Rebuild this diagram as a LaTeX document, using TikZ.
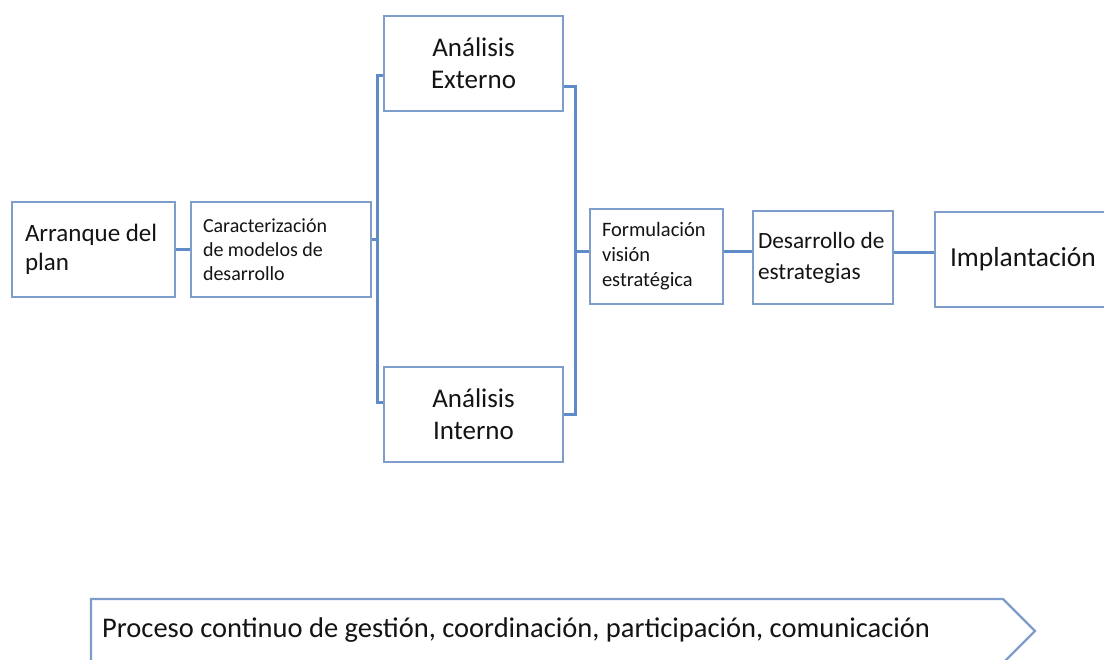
\documentclass[tikz,border=0pt]{standalone}
\usepackage{fontspec}
\setmainfont{Carlito}
\usetikzlibrary{calc}
\definecolor{boxblue}{HTML}{7E9DCB}
\definecolor{linkblue}{HTML}{5F8CC8}
\definecolor{inkgray}{HTML}{141414}
\newcommand{\fs}[2]{\fontsize{#1}{#2}\selectfont}
\begin{document}
\begin{tikzpicture}[x=1pt,y=-1pt,
    stage/.style={draw=boxblue,line width=2.3pt,fill=white,text=inkgray,
      align=flush left,minimum height=95pt,inner xsep=12pt,inner ysep=0pt},
    link/.style={draw=linkblue,line width=3pt}]
  \useasboundingbox (0,0) rectangle (1104,660);
  \clip (0,0) rectangle (1104,660);
  % boxes of the main sequence
  \node[stage,inner xsep=13pt,text width=137pt,font=\fs{25}{29}] (arranque) at (93.5,249.5)
    {Arranque del\\plan};
  \node[stage,text width=156pt,font=\fs{20}{24}] (caract) at (281,249.5)
    {Caracterización\\de modelos de\\desarrollo};
  \node[stage,align=center,text width=155pt,font=\fs{27}{32}] (externo) at (473.5,63.5)
    {Análisis\\Externo};
  \node[stage,align=center,text width=155pt,font=\fs{27}{32}] (interno) at (473.5,414.5)
    {Análisis\\Interno};
  \node[stage,text width=109pt,font=\fs{20.5}{25}] (formul) at (656.5,256.5)
    {Formulación\\visión\\estratégica};
  \node[stage,inner xsep=5pt,text width=130pt,minimum height=93pt,font=\fs{23.3}{31}] (desarr) at (823,257.5)
    {Desarrollo de\\estrategias};
  \node[stage,inner xsep=15pt,text width=150pt,font=\fs{27.5}{32}] (implant) at (1025,259.5)
    {Implantación};
  % connectors and brackets
  \coordinate (brL) at (377,240);
  \coordinate (brR) at (575,252);
  \draw[link] (arranque.east) -- (caract.west);
  \draw[link] ([yshift=9.5pt]caract.east) -- (brL);
  \draw[link] ([yshift=-12.5pt]externo.west) -| (brL) |- ([yshift=11.5pt]interno.west);
  \draw[link] ([yshift=-23.5pt]externo.east) -| (brR) |- (interno.east);
  \draw[link] (brR) -- (brR -| formul.west);
  \draw[link] ([yshift=4.5pt]formul.east) -- ([yshift=4.5pt]formul.east -| desarr.west);
  \draw[link] ([yshift=6.5pt]implant.west) -- ([yshift=6.5pt]implant.west -| desarr.east);
  % continuous process arrow
  \draw[draw=boxblue,line width=2.3pt,fill=white]
    (91,599) -- (1003,599) -- (1035,631) -- (1003,663) -- (91,663) -- cycle;
  \node[anchor=base west,inner sep=0pt,text=inkgray,font=\fs{28.5}{34}] (proceso) at (102,637)
    {Proceso continuo de gestión, coordinación, participación, comunicación};
\end{tikzpicture}
\end{document}
